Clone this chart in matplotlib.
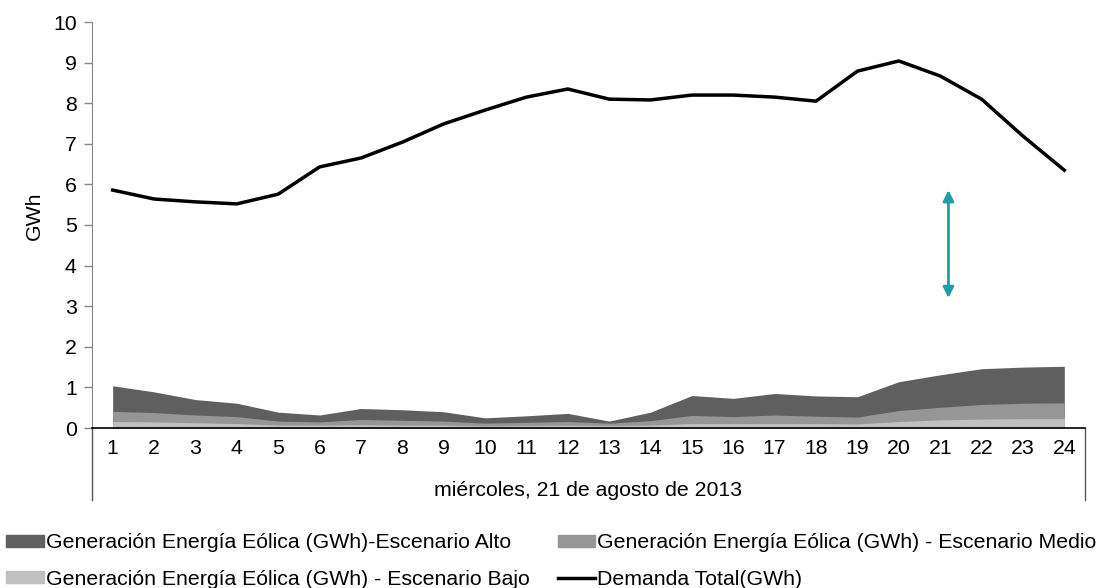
import matplotlib
matplotlib.use("Agg")
import matplotlib.pyplot as plt
from matplotlib.patches import Patch
from matplotlib.lines import Line2D

plt.rcParams['font.family'] = ['Liberation Sans', 'DejaVu Sans']

hours = list(range(1, 25))
hour_labels = [str(h) for h in hours]
group_label = "miércoles, 21 de agosto de 2013"

demanda = [5.86, 5.64, 5.57, 5.52, 5.76, 6.43, 6.65, 7.04, 7.49, 7.83, 8.15, 8.35,
           8.10, 8.08, 8.20, 8.20, 8.15, 8.05, 8.79, 9.04, 8.67, 8.10, 7.19, 6.35]
alto = [1.04, 0.89, 0.70, 0.61, 0.39, 0.32, 0.48, 0.45, 0.40, 0.25, 0.30, 0.36,
        0.17, 0.39, 0.80, 0.73, 0.85, 0.79, 0.77, 1.14, 1.31, 1.46, 1.50, 1.52]
medio = [0.41, 0.38, 0.32, 0.28, 0.17, 0.15, 0.21, 0.19, 0.17, 0.12, 0.14, 0.16,
         0.12, 0.18, 0.31, 0.28, 0.32, 0.29, 0.27, 0.43, 0.51, 0.58, 0.61, 0.62]
bajo = [0.16, 0.15, 0.13, 0.11, 0.07, 0.07, 0.08, 0.07, 0.07, 0.05, 0.06, 0.07,
        0.06, 0.07, 0.11, 0.11, 0.11, 0.11, 0.10, 0.16, 0.20, 0.22, 0.23, 0.23]

legend_labels = ["Generación Energía Eólica (GWh)-Escenario Alto",
                 "Generación Energía Eólica (GWh) - Escenario Medio",
                 "Generación Energía Eólica (GWh) - Escenario Bajo",
                 "Demanda Total(GWh)"]

c_alto, c_medio, c_bajo = "#5f5f5f", "#969696", "#c0c0c0"
FS = 15.3

W, H = 1100, 588
fig = plt.figure(figsize=(W / 100, H / 100), dpi=100)
ax = fig.add_axes([92 / W, (H - 428) / H, (1085 - 92) / W, (428 - 22) / H])

ax.fill_between(hours, 0, alto, color=c_alto, lw=0)
ax.fill_between(hours, 0, medio, color=c_medio, lw=0)
ax.fill_between(hours, 0, bajo, color=c_bajo, lw=0)
ax.plot(hours, demanda, color="black", lw=2.5)

# double-headed arrow
ax.annotate("", xy=(21.2, 5.86), xytext=(21.2, 3.2),
            arrowprops=dict(arrowstyle="<|-|>", color="#1f9eaa", lw=2,
                            mutation_scale=16, shrinkA=0, shrinkB=0))

ax.set_xlim(0.5, 24.5)
ax.set_ylim(0, 10)
ax.set_yticks(range(0, 11))
ax.set_xticks(hours)
ax.set_xticklabels(hour_labels)
ax.tick_params(axis='x', length=0, pad=8, labelsize=FS)
ax.tick_params(axis='y', length=6, width=1, color="#868686", labelsize=FS, pad=5)

for s in ("top", "right"):
    ax.spines[s].set_visible(False)
ax.spines["left"].set_color("#868686")
ax.spines["bottom"].set_color("black")
ax.spines["bottom"].set_linewidth(1.2)

# group bracket lines
drop = -(500 - 428) / 406
for xa in (0, 1):
    ax.plot([xa, xa], [0, drop], transform=ax.transAxes, color="#555555", lw=1, clip_on=False)

ax.text(0.5, -(491 - 428) / 406, group_label, transform=ax.transAxes,
        ha="center", va="center", fontsize=FS)
ax.set_ylabel("GWh", fontsize=FS)
ax.yaxis.set_label_coords((44 - 92) / 993, (428 - 216) / 406)

handles = [Patch(color=c_alto), Patch(color=c_medio), Patch(color=c_bajo),
           Line2D([], [], color="black", lw=2.5)]
order_h = [handles[0], handles[2], handles[1], handles[3]]
order_l = [legend_labels[0], legend_labels[2], legend_labels[1], legend_labels[3]]
fig.legend(order_h, order_l, ncol=2, loc="upper left",
           bbox_to_anchor=(0.0, (H - 527) / H), frameon=False, fontsize=FS,
           handlelength=1.75, handleheight=0.5, handletextpad=0.1,
           columnspacing=1.35, borderaxespad=0, borderpad=0.3, labelspacing=0.82)

fig.savefig("out.png", dpi=100)
